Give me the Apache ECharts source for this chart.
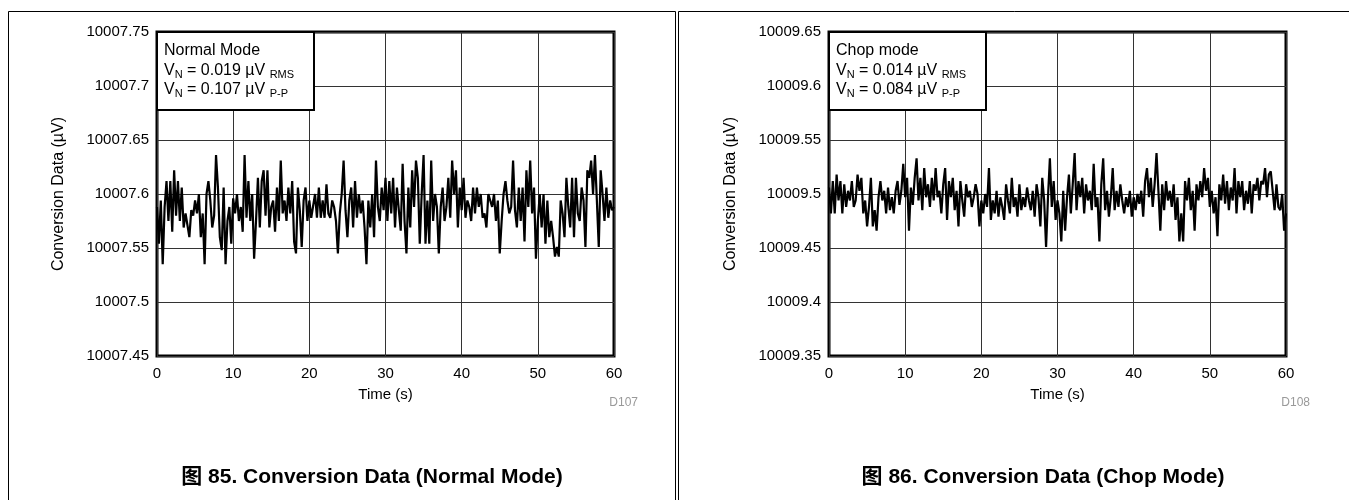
<!DOCTYPE html>
<html>
<head>
<meta charset="utf-8">
<script src="https://cdn.jsdelivr.net/npm/echarts@6/dist/echarts.min.js"></script>
<style>
html,body{margin:0;padding:0;background:#fff;}
#chart{width:1349px;height:500px;}
</style>
</head>
<body>
<div id="chart"></div>
<script>
// ---- data ----
const timeStep = 0.25; // seconds between samples
const xTicks = ['0','10','20','30','40','50','60'];
const normalYTicks = ['10007.45','10007.5','10007.55','10007.6','10007.65','10007.7','10007.75'];
const chopYTicks = ['10009.35','10009.4','10009.45','10009.5','10009.55','10009.6','10009.65'];

const normalValues = [
10007.588,10007.554,10007.594,10007.535, 10007.588,10007.612,10007.575,10007.612,
10007.565,10007.622,10007.58,10007.612, 10007.575,10007.606,10007.569,10007.582,
10007.582,10007.56,10007.585,10007.58, 10007.594,10007.582,10007.6,10007.56,
10007.582,10007.535,10007.6,10007.612, 10007.594,10007.569,10007.58,10007.636,
10007.606,10007.56,10007.548,10007.606, 10007.535,10007.575,10007.588,10007.554,
10007.596,10007.582,10007.6,10007.575, 10007.588,10007.565,10007.636,10007.578,
10007.612,10007.575,10007.6,10007.54, 10007.575,10007.615,10007.569,10007.612,
10007.622,10007.58,10007.622,10007.569, 10007.588,10007.594,10007.565,10007.606,
10007.575,10007.631,10007.582,10007.594, 10007.575,10007.606,10007.582,10007.612,
10007.556,10007.545,10007.606,10007.585, 10007.551,10007.594,10007.606,10007.575,
10007.594,10007.578,10007.578,10007.6, 10007.578,10007.606,10007.578,10007.594,
10007.578,10007.609,10007.582,10007.578, 10007.594,10007.588,10007.575,10007.545,
10007.582,10007.6,10007.631,10007.585, 10007.56,10007.594,10007.606,10007.569,
10007.612,10007.578,10007.6,10007.582, 10007.594,10007.569,10007.535,10007.594,
10007.569,10007.6,10007.56,10007.631, 10007.588,10007.575,10007.606,10007.585,
10007.615,10007.575,10007.612,10007.582, 10007.615,10007.569,10007.606,10007.585,
10007.566,10007.628,10007.575,10007.545, 10007.606,10007.569,10007.622,10007.588,
10007.631,10007.615,10007.554,10007.6, 10007.636,10007.554,10007.594,10007.554,
10007.631,10007.575,10007.6,10007.588, 10007.545,10007.588,10007.606,10007.575,
10007.588,10007.615,10007.578,10007.631, 10007.6,10007.622,10007.569,10007.606,
10007.585,10007.615,10007.578,10007.594, 10007.588,10007.575,10007.606,10007.582,
10007.606,10007.588,10007.6,10007.578, 10007.582,10007.569,10007.6,10007.594,
10007.588,10007.6,10007.575,10007.594, 10007.545,10007.575,10007.6,10007.612,
10007.594,10007.582,10007.588,10007.631, 10007.585,10007.569,10007.606,10007.575,
10007.606,10007.556,10007.622,10007.588, 10007.631,10007.582,10007.606,10007.54,
10007.575,10007.6,10007.569,10007.6, 10007.554,10007.594,10007.56,10007.575,
10007.56,10007.542,10007.551,10007.542, 10007.594,10007.582,10007.56,10007.615,
10007.588,10007.569,10007.615,10007.56, 10007.615,10007.582,10007.575,10007.606,
10007.594,10007.551,10007.622,10007.615, 10007.631,10007.6,10007.636,10007.594,
10007.551,10007.622,10007.6,10007.575, 10007.606,10007.578,10007.594,10007.585,
10007.588
];

const chopValues = [
10009.506,10009.482,10009.512,10009.482, 10009.518,10009.494,10009.512,10009.482,
10009.509,10009.488,10009.503,10009.494, 10009.512,10009.488,10009.494,10009.518,
10009.503,10009.515,10009.482,10009.494, 10009.47,10009.488,10009.515,10009.47,
10009.485,10009.466,10009.497,10009.512, 10009.494,10009.503,10009.482,10009.506,
10009.485,10009.497,10009.482,10009.503, 10009.512,10009.49,10009.503,10009.528,
10009.497,10009.515,10009.466,10009.506, 10009.49,10009.515,10009.533,10009.494,
10009.515,10009.485,10009.524,10009.497, 10009.509,10009.488,10009.515,10009.494,
10009.524,10009.497,10009.503,10009.482, 10009.509,10009.524,10009.476,10009.512,
10009.497,10009.515,10009.485,10009.503, 10009.47,10009.512,10009.494,10009.479,
10009.509,10009.497,10009.503,10009.488, 10009.497,10009.509,10009.5,10009.47,
10009.494,10009.482,10009.5,10009.488, 10009.524,10009.476,10009.494,10009.482,
10009.503,10009.479,10009.497,10009.488, 10009.476,10009.509,10009.494,10009.482,
10009.515,10009.488,10009.497,10009.479, 10009.509,10009.485,10009.497,10009.488,
10009.506,10009.494,10009.485,10009.503, 10009.479,10009.509,10009.497,10009.47,
10009.515,10009.494,10009.451,10009.497, 10009.533,10009.488,10009.512,10009.476,
10009.494,10009.482,10009.456,10009.503, 10009.466,10009.497,10009.518,10009.482,
10009.509,10009.538,10009.485,10009.512, 10009.497,10009.515,10009.482,10009.509,
10009.494,10009.503,10009.485,10009.528, 10009.488,10009.497,10009.456,10009.509,
10009.533,10009.485,10009.503,10009.479, 10009.497,10009.524,10009.485,10009.503,
10009.488,10009.509,10009.494,10009.482, 10009.497,10009.488,10009.503,10009.479,
10009.497,10009.485,10009.5,10009.491, 10009.503,10009.479,10009.512,10009.524,
10009.497,10009.515,10009.488,10009.509, 10009.538,10009.503,10009.466,10009.509,
10009.485,10009.512,10009.494,10009.503, 10009.488,10009.509,10009.476,10009.497,
10009.456,10009.482,10009.456,10009.512, 10009.494,10009.515,10009.485,10009.503,
10009.466,10009.509,10009.494,10009.512, 10009.497,10009.524,10009.503,10009.515,
10009.488,10009.503,10009.482,10009.497, 10009.461,10009.509,10009.494,10009.518,
10009.491,10009.512,10009.485,10009.506, 10009.494,10009.524,10009.482,10009.512,
10009.497,10009.512,10009.485,10009.503, 10009.491,10009.512,10009.482,10009.509,
10009.503,10009.515,10009.494,10009.512, 10009.509,10009.524,10009.497,10009.518,
10009.521,10009.503,10009.485,10009.509, 10009.488,10009.485,10009.5,10009.466,
10009.482
];

const panels = [
  { label: 'Normal Mode', rms: '0.019', pp: '0.107', code: 'D107', caption: '图 85. Conversion Data (Normal Mode)' },
  { label: 'Chop mode',   rms: '0.014', pp: '0.084', code: 'D108', caption: '图 86. Conversion Data (Chop Mode)' }
];

// ---- chart ----
const FONT = '"Liberation Sans", Arial, Helvetica, sans-serif';
const CAPFONT = '"Liberation Sans", Arial, "Noto Sans CJK SC", sans-serif';

function toPairs(vals){ return vals.map((v,i)=>[i*timeStep, v]); }
function tickFormatter(ticks){ return v => { const t = ticks.find(s => Math.abs(parseFloat(s) - v) < 1e-6); return t === undefined ? '' : t; }; }

const gridLefts = [157, 829];
const grids = gridLefts.map(l => ({ left: l, top: 32, width: 457, height: 324, show: true, borderColor: '#000', borderWidth: 3, backgroundColor: 'transparent' }));

const yTickSets = [normalYTicks, chopYTicks];
const xAxes = [0,1].map(i => ({
  type: 'value', gridIndex: i, min: 0, max: 60, interval: 10,
  name: 'Time (s)', nameLocation: 'middle', nameGap: 31,
  nameTextStyle: { fontFamily: FONT, fontSize: 15, color: '#000' },
  axisLine: { show: false }, axisTick: { show: false },
  axisLabel: { fontFamily: FONT, fontSize: 15, color: '#000', margin: 10, formatter: tickFormatter(xTicks) },
  splitLine: { show: true, lineStyle: { color: '#333', width: 1 } }
}));
const yAxes = [0,1].map(i => {
  const t = yTickSets[i];
  return {
    type: 'value', gridIndex: i, min: parseFloat(t[0]), max: parseFloat(t[t.length-1]), interval: 0.05,
    name: 'Conversion Data (µV)', nameLocation: 'middle', nameGap: 90, nameRotate: 90,
    nameTextStyle: { fontFamily: FONT, fontSize: 16, color: '#000' },
    axisLine: { show: false }, axisTick: { show: false },
    axisLabel: { fontFamily: FONT, fontSize: 15, color: '#000', margin: 8, formatter: tickFormatter(t) },
    splitLine: { show: true, lineStyle: { color: '#333', width: 1 } }
  };
});

const series = [normalValues, chopValues].map((vals, i) => ({
  type: 'line', xAxisIndex: i, yAxisIndex: i, data: toPairs(vals),
  symbol: 'none', showSymbol: false, animation: false,
  lineStyle: { color: '#000', width: 2.2 }, z: 3
}));

const graphics = [];
// outer panel frames
graphics.push({ type: 'rect', shape: { x: 8.5, y: 11.5, width: 667, height: 520 }, style: { fill: 'none', stroke: '#000', lineWidth: 1 }, silent: true, z: 1 });
graphics.push({ type: 'rect', shape: { x: 678.5, y: 11.5, width: 700, height: 520 }, style: { fill: 'none', stroke: '#000', lineWidth: 1 }, silent: true, z: 1 });

const rich = {
  a: { fontFamily: FONT, fontSize: 16, color: '#000', lineHeight: 19.5 },
  s: { fontFamily: FONT, fontSize: 11, color: '#000', lineHeight: 7, verticalAlign: 'bottom' }
};
panels.forEach((p, i) => {
  const gx = gridLefts[i];
  graphics.push({ type: 'rect', shape: { x: gx, y: 32, width: 157, height: 78 }, style: { fill: '#fff', stroke: '#000', lineWidth: 2 }, z: 10, silent: true });
  graphics.push({ type: 'text', x: gx + 7, y: 41, z: 11, silent: true, style: {
    text: '{a|' + p.label + '}\n{a|V}{s|N}{a| = ' + p.rms + ' µV }{s|RMS}\n{a|V}{s|N}{a| = ' + p.pp + ' µV }{s|P-P}',
    rich: rich, fill: '#000', font: '16px ' + FONT
  }});
  graphics.push({ type: 'text', x: gx + 481, y: 403, z: 11, silent: true, style: {
    text: p.code, fill: '#999', font: '12px ' + FONT, textAlign: 'right', textVerticalAlign: 'middle'
  }});
  graphics.push({ type: 'text', x: [372, 1043][i], y: 477, z: 11, silent: true, style: {
    text: p.caption, fill: '#000', font: 'bold 21px ' + CAPFONT, textAlign: 'center', textVerticalAlign: 'middle'
  }});
});

const chart = echarts.init(document.getElementById('chart'));
chart.setOption({
  animation: false,
  backgroundColor: '#fff',
  grid: grids,
  xAxis: xAxes,
  yAxis: yAxes,
  series: series,
  graphic: graphics
});
</script>
</body>
</html>
